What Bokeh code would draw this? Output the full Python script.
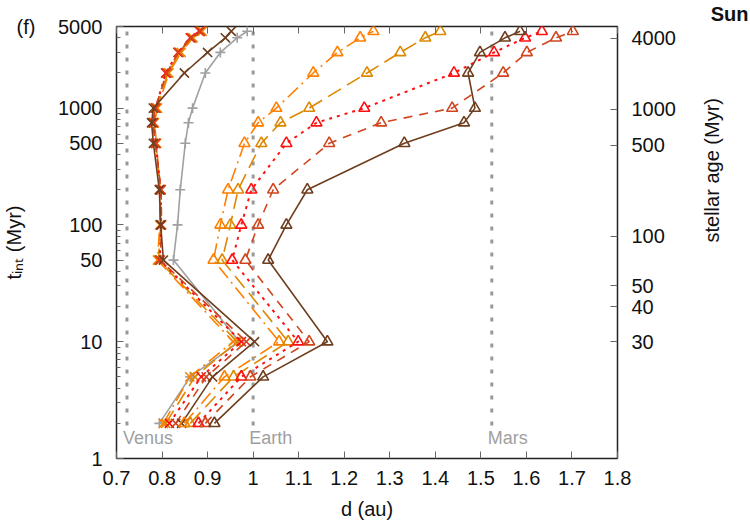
import math
from bokeh.plotting import figure
from bokeh.models import Range1d, FixedTicker, LinearAxis, LogAxis, Title
from bokeh.embed import file_html
from bokeh.resources import INLINE

# ---- data -------------------------------------------------------------
# integration times (Myr)
t_int = [2, 5, 10, 50, 100, 200, 500, 750, 1000, 2000, 3000, 4000, 4550]

# distances (au) of the cross-marker runs
x_gray = [0.794, 0.862, 0.970, 0.825, 0.834, 0.840, 0.851, 0.858, 0.867, 0.895, 0.928, 0.965, 0.987]
x_orange = [0.803, 0.861, 0.956, 0.790, 0.795, 0.795, 0.788, 0.783, 0.790, 0.815, 0.842, 0.868, 0.888]
x_darkorange = [0.808, 0.872, 0.965, 0.792, 0.797, 0.796, 0.787, 0.782, 0.788, 0.813, 0.838, 0.866, 0.885]
x_red = [0.816, 0.886, 0.974, 0.795, 0.798, 0.797, 0.786, 0.781, 0.786, 0.808, 0.835, 0.862, 0.882]
x_redbrown = [0.830, 0.897, 0.985, 0.796, 0.799, 0.798, 0.785, 0.780, 0.785, 0.810, 0.836, 0.864, 0.884]
x_brown = [0.843, 0.911, 1.003, 0.803, 0.797, 0.794, 0.781, 0.777, 0.781, 0.849, 0.900, 0.939, 0.952]

# distances (au) of the triangle-marker runs
tri_orange = [0.849, 0.937, 1.057, 0.913, 0.928, 0.945, 0.981, 1.011, 1.051, 1.132, 1.185, 1.235, 1.264]
tri_darkorange = [0.862, 0.957, 1.077, 0.932, 0.950, 0.967, 1.018, 1.060, 1.123, 1.250, 1.323, 1.378, 1.411]
tri_red = [0.880, 0.974, 1.099, 0.954, 0.974, 0.996, 1.073, 1.139, 1.244, 1.441, 1.529, 1.597, 1.634]
tri_redbrown = [0.895, 0.994, 1.123, 0.983, 1.011, 1.044, 1.167, 1.281, 1.437, 1.549, 1.601, 1.665, 1.702]
tri_brown = [0.915, 1.022, 1.163, 1.033, 1.073, 1.119, 1.332, 1.463, 1.487, 1.472, 1.498, 1.553, 1.586]

# planets
planet_names = ["Venus", "Earth", "Mars"]
planet_d = [0.723, 1.0, 1.524]

# axis ticks
x_ticks = [0.7, 0.8, 0.9, 1.0, 1.1, 1.2, 1.3, 1.4, 1.5, 1.6, 1.7, 1.8]
x_tick_labels = ["0.7", "0.8", "0.9", "1", "1.1", "1.2", "1.3", "1.4", "1.5", "1.6", "1.7", "1.8"]
y_ticks = [1, 10, 50, 100, 500, 1000, 5000]
y_tick_labels = ["1", "10", "50", "100", "500", "1000", "5000"]
age_ticks = [4000, 1000, 500, 100, 50, 40, 30]
age_offset = 20  # stellar age = t_int + offset (Myr)

FONT = "Liberation Sans"

# ---- styles -----------------------------------------------------------
C_ORANGE = "#FF8000"
C_DARKORANGE = "#DD8800"
C_RED = "#FF1010"
C_REDBROWN = "#D0451E"
C_BROWN = "#6E3E1E"
C_GRAY = "#A0A0A0"

# frame geometry (px)
FL, FR, FT, FB = 115, 617, 26, 458
W, H = 750, 525

p = figure(width=W, height=H, x_range=Range1d(0.7, 1.8), y_range=Range1d(1, 5000),
           y_axis_type="log", output_backend="svg", toolbar_location=None,
           min_border_left=FL, min_border_right=W - FR, min_border_top=FT,
           min_border_bottom=H - FB)
p.grid.visible = False
p.outline_line_color = "#222222"
p.outline_line_width = 1.5
p.background_fill_color = "white"
p.border_fill_color = "white"


def style_axis(ax, labels=True):
    ax.axis_line_color = None
    ax.major_tick_in = 7
    ax.major_tick_out = 0
    ax.minor_tick_in = 4
    ax.minor_tick_out = 0
    ax.major_tick_line_color = "#666666"
    ax.minor_tick_line_color = "#666666"
    ax.major_label_text_font = FONT
    ax.major_label_text_font_size = "20px" if labels else "0px"
    ax.major_label_text_color = "#111111"
    ax.major_label_standoff = 14 if labels else 0
    ax.axis_label_text_font = FONT
    ax.axis_label_text_font_size = "20px"
    ax.axis_label_text_font_style = "normal"
    ax.axis_label_text_color = "#111111"


# bottom axis
xa = p.xaxis[0]
xa.ticker = FixedTicker(ticks=x_ticks, minor_ticks=[])
xa.major_label_overrides = {t: s for t, s in zip(x_ticks, x_tick_labels)}
style_axis(xa)
xa.major_label_standoff = 12
xa.axis_label = "d (au)"
xa.axis_label_standoff = 10

# left axis
minor_y = [m * 10 ** e for e in range(0, 4) for m in range(2, 10)]
minor_y = [v for v in minor_y if v <= 5000 and v not in y_ticks]
ya = p.yaxis[0]
ya.ticker = FixedTicker(ticks=y_ticks, minor_ticks=minor_y)
ya.major_label_overrides = {t: s for t, s in zip(y_ticks, y_tick_labels)}
style_axis(ya)
ya.axis_label = "t\u1d62\u2099\u209c (Myr)"
ya.axis_label_standoff = 30

# top mirror axis (ticks only)
top = LinearAxis(ticker=FixedTicker(ticks=x_ticks, minor_ticks=[]))
style_axis(top, labels=False)
p.add_layout(top, "above")

# right axis: stellar age
age_pos = [a - age_offset for a in age_ticks]
ra = LogAxis(ticker=FixedTicker(ticks=age_pos, minor_ticks=[]))
ra.major_label_overrides = {t: str(a) for t, a in zip(age_pos, age_ticks)}
style_axis(ra)
ra.axis_label = "stellar age (Myr)"
ra.axis_label_standoff = 33
ra.axis_label_orientation = math.pi / 2
p.add_layout(ra, "right")

# panel tag and star name above the frame (thin panels, text overhangs)
p.add_layout(Title(text="(f)", align="left", offset=-100, vertical_align="bottom",
                   standoff=-22, text_font=FONT, text_font_size="20px",
                   text_font_style="normal", text_color="#111111",
                   text_line_height=0.4), "above")
p.add_layout(Title(text="Sun", align="right", offset=-131, vertical_align="bottom",
                   standoff=0, text_font=FONT, text_font_size="20px",
                   text_font_style="bold", text_color="#111111",
                   text_line_height=0.4), "above")

# planet orbits
for name, d in zip(planet_names, planet_d):
    p.line([d, d], [1.92, 5000], line_color="#999999", line_width=3, line_dash="4 9")
p.text(x=planet_d, y=[1.51] * 3, text=planet_names, x_offset=-4,
       text_font_size="18px", text_color="#A0A0A0", text_baseline="middle",
       text_align="left", text_font={"value": FONT})

# cross-marker runs
cross_runs = [
    (x_gray, C_GRAY, None, "cross"),
    (x_orange, C_ORANGE, "14 5 2 5", "x"),
    (x_darkorange, C_DARKORANGE, "15 7", "x"),
    (x_red, C_RED, "3 5", "x"),
    (x_redbrown, C_REDBROWN, "9 7", "x"),
    (x_brown, C_BROWN, None, "x"),
]
for xs, col, dash, mk in cross_runs:
    kw = dict(line_color=col, line_width=1.6)
    if dash:
        kw["line_dash"] = dash
        kw["line_width"] = 2 if dash == "3 5" else 1.6
    p.line(xs, t_int, **kw)
    p.scatter(xs, t_int, marker=mk, size=10 if mk == "cross" else 13,
              line_color=col, line_width=1.6, fill_color=None)

# triangle-marker runs
tri_runs = [
    (tri_orange, C_ORANGE, "14 5 2 5"),
    (tri_darkorange, C_DARKORANGE, "15 7"),
    (tri_red, C_RED, "3 5"),
    (tri_redbrown, C_REDBROWN, "9 7"),
    (tri_brown, C_BROWN, None),
]
for xs, col, dash in tri_runs:
    kw = dict(line_color=col, line_width=1.6)
    if dash:
        kw["line_dash"] = dash
        kw["line_width"] = 2 if dash == "3 5" else 1.6
    p.line(xs, t_int, **kw)
    p.scatter(xs, t_int, marker="triangle", size=11, line_color=col,
              line_width=1.6, fill_color=None)

open("out.html", "w").write(file_html(p, INLINE))
